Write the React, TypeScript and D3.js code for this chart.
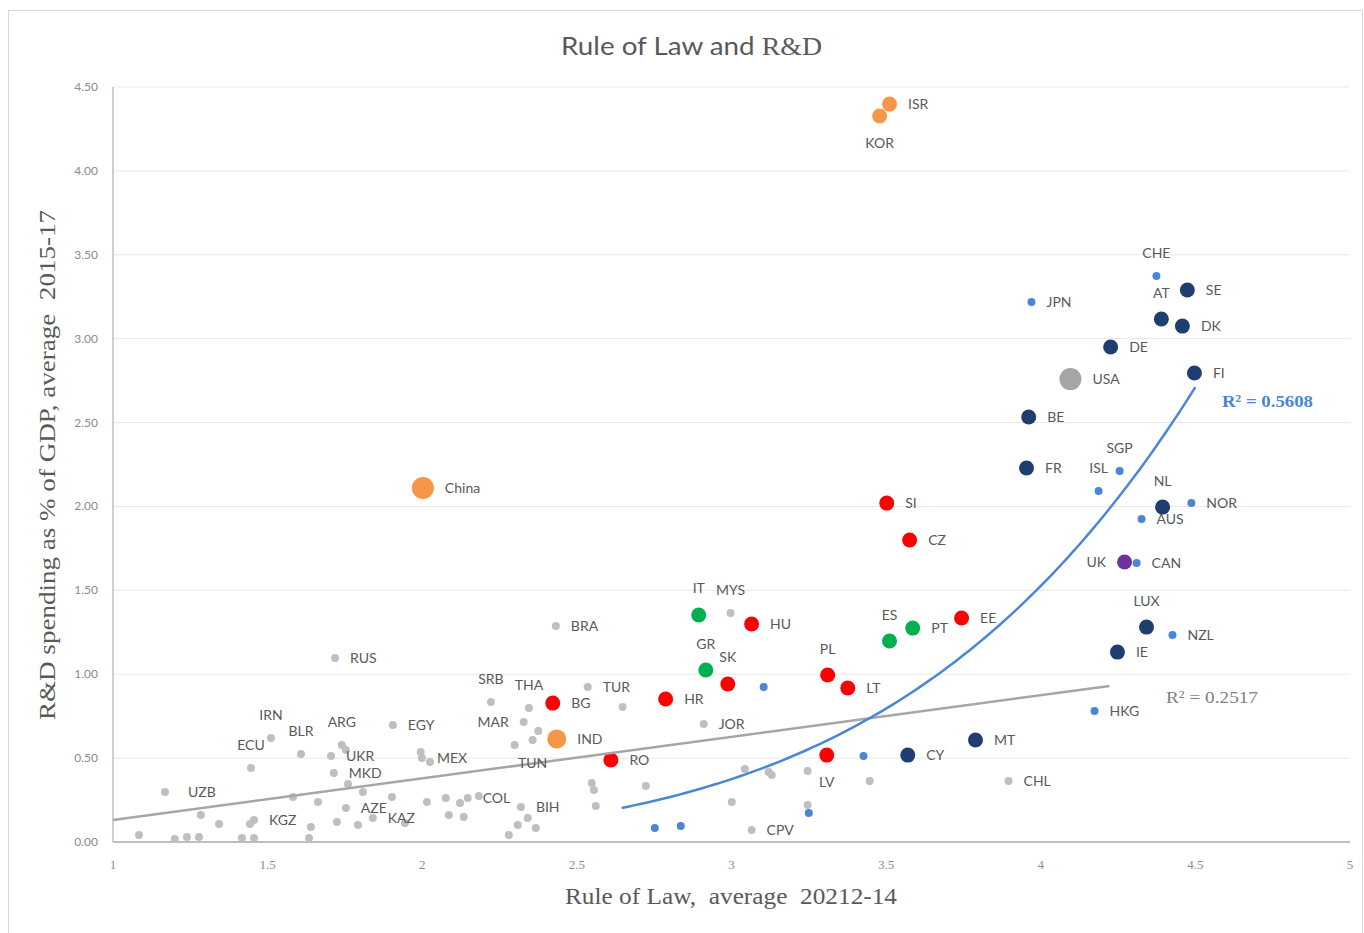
import React, { useRef, useEffect } from "react";
import { select, scaleLinear, line, range, format } from "d3";

// [country, rule of law (avg), R&D spending % of GDP (avg 2015-17)]
const euNorthWest = [
  ["SE", 4.474, 3.29], ["AT", 4.39, 3.117], ["DK", 4.458, 3.075], ["DE", 4.226, 2.95],
  ["FI", 4.497, 2.795], ["BE", 3.961, 2.533], ["FR", 3.954, 2.229], ["NL", 4.394, 1.996],
  ["LUX", 4.342, 1.281], ["IE", 4.248, 1.132], ["MT", 3.789, 0.608], ["CY", 3.57, 0.518]
];
const euEast = [
  ["SI", 3.502, 2.02], ["CZ", 3.576, 1.8], ["EE", 3.744, 1.335], ["HU", 3.065, 1.299],
  ["PL", 3.311, 0.995], ["LT", 3.376, 0.918], ["SK", 2.988, 0.942], ["HR", 2.787, 0.852],
  ["BG", 2.422, 0.828], ["RO", 2.61, 0.489], ["LV", 3.308, 0.518]
];
const euSouth = [["IT", 2.894, 1.353], ["GR", 2.917, 1.025], ["ES", 3.511, 1.198], ["PT", 3.586, 1.275]];
const asia = [["ISR", 3.511, 4.398], ["KOR", 3.479, 4.327]];
const bigAsia = [["China", 2.002, 2.11], ["IND", 2.435, 0.614]];
const usa = [["USA", 4.096, 2.759]];
const uk = [["UK", 4.271, 1.669]];
const oecdOther = [
  ["CHE", 4.374, 3.373], ["JPN", 3.97, 3.218], ["SGP", 4.255, 2.211], ["ISL", 4.187, 2.092],
  ["NOR", 4.487, 2.02], ["AUS", 4.326, 1.925], ["CAN", 4.31, 1.663], ["NZL", 4.426, 1.234],
  ["HKG", 4.174, 0.781], ["", 3.104, 0.924], ["", 3.427, 0.513], ["", 3.25, 0.173],
  ["", 2.752, 0.083], ["", 2.836, 0.095]
];
const others = [
  ["RUS", 1.718, 1.097], ["BRA", 2.432, 1.287], ["MYS", 2.997, 1.365], ["TUR", 2.535, 0.924],
  ["SRB", 2.222, 0.834], ["THA", 2.345, 0.799], ["MAR", 2.328, 0.715], ["JOR", 2.91, 0.703],
  ["TUN", 2.357, 0.608], ["IRN", 1.511, 0.62], ["BLR", 1.608, 0.524], ["ECU", 1.446, 0.441],
  ["ARG", 1.74, 0.578], ["UKR", 1.705, 0.513], ["MKD", 1.714, 0.411], ["EGY", 1.905, 0.697],
  ["MEX", 1.999, 0.501], ["UZB", 1.168, 0.298], ["KGZ", 1.456, 0.131], ["AZE", 1.753, 0.203],
  ["KAZ", 1.84, 0.143], ["COL", 2.147, 0.262], ["BIH", 2.319, 0.209], ["CHL", 3.896, 0.364],
  ["CPV", 3.065, 0.072],
  ["", 1.753, 0.548], ["", 1.995, 0.536], ["", 2.025, 0.477], ["", 1.76, 0.346],
  ["", 1.808, 0.298], ["", 1.902, 0.268], ["", 2.015, 0.238], ["", 1.582, 0.268],
  ["", 1.663, 0.238], ["", 1.724, 0.119], ["", 1.792, 0.101], ["", 1.64, 0.089],
  ["", 1.944, 0.113], ["", 1.284, 0.161], ["", 1.343, 0.107], ["", 1.084, 0.042],
  ["", 1.2, 0.018], ["", 1.239, 0.03], ["", 1.278, 0.03], ["", 1.417, 0.024],
  ["", 1.456, 0.024], ["", 1.634, 0.024], ["", 1.443, 0.107], ["", 2.375, 0.662],
  ["", 2.299, 0.578], ["", 2.183, 0.274], ["", 2.076, 0.262], ["", 2.122, 0.232],
  ["", 2.086, 0.161], ["", 2.134, 0.149], ["", 2.341, 0.143], ["", 2.309, 0.101],
  ["", 2.367, 0.083], ["", 2.28, 0.042], ["", 2.548, 0.352], ["", 2.555, 0.31],
  ["", 2.561, 0.215], ["", 2.723, 0.334], ["", 2.648, 0.805], ["", 3.001, 0.238],
  ["", 3.043, 0.435], ["", 3.13, 0.399], ["", 3.12, 0.417], ["", 3.246, 0.423],
  ["", 3.447, 0.364], ["", 3.246, 0.221]
];

const xTicks = [1, 1.5, 2, 2.5, 3, 3.5, 4, 4.5, 5];
const yTicks = [0, 0.5, 1, 1.5, 2, 2.5, 3, 3.5, 4, 4.5];

// trendlines as given in the chart (linear, all countries; power, OECD/EU)
const linFit = { a: -0.117, b: 0.248, from: 1, to: 4.222, r2: "0.2517" };
const powFit = { a: 0.00176, b: 4.88, from: 2.645, to: 4.5, r2: "0.5608" };

// where each label sits relative to its dot (default: right)
const labelSide = {
  CHE: "top", AT: "top", SGP: "top", ISL: "top", NL: "top", LUX: "top", ES: "top",
  PL: "top", IT: "top", MYS: "top", GR: "top", SK: "top", SRB: "top", THA: "top",
  IRN: "top", BLR: "top", ECU: "top", ARG: "top",
  KOR: "bottom", LV: "bottom", TUN: "bottom",
  UK: "left", MAR: "left"
};

const W = 1364;
const H = 933;
const labelFont = "Lato, 'Open Sans', sans-serif";
const serif = "'Liberation Serif', 'DejaVu Serif', serif";

function App() {
  const svgRef = useRef(null);

  useEffect(() => {
    const svg = select(svgRef.current);
    svg.selectAll("*").remove();

    const x = scaleLinear().domain([1, 5]).range([113, 1350]);
    const y = scaleLinear().domain([0, 4.5]).range([842, 87]);

    // outer chart frame
    svg.append("rect")
      .attr("x", 8.5).attr("y", 10.5)
      .attr("width", W - 10).attr("height", H)
      .attr("fill", "white").attr("stroke", "#d9d9d9");

    // title
    const title = svg.append("text")
      .attr("x", 561).attr("y", 55)
      .attr("textLength", 261)
      .attr("lengthAdjust", "spacingAndGlyphs")
      .attr("fill", "#595959")
      .style("white-space", "pre")
      .style("font-size", "25px");
    title.append("tspan").style("font-family", labelFont).text("Rule of Law and ");
    title.append("tspan").style("font-family", serif).text("R&D");

    // gridlines
    svg.selectAll(".grid")
      .data(yTicks.filter(d => d > 0))
      .join("line")
      .attr("class", "grid")
      .attr("x1", x(1)).attr("x2", x(5))
      .attr("y1", d => y(d)).attr("y2", d => y(d))
      .attr("stroke", "#e8e8e8");

    // axes
    svg.append("line")
      .attr("x1", x(1)).attr("x2", x(1))
      .attr("y1", y(4.5)).attr("y2", y(0))
      .attr("stroke", "#bfbfbf").attr("stroke-width", 1.5);
    svg.append("line")
      .attr("x1", x(1)).attr("x2", x(5))
      .attr("y1", y(0)).attr("y2", y(0))
      .attr("stroke", "#bfbfbf").attr("stroke-width", 2);

    svg.selectAll(".ytick")
      .data(yTicks)
      .join("text")
      .attr("class", "ytick")
      .attr("x", 98).attr("y", d => y(d) + 4)
      .attr("text-anchor", "end")
      .attr("fill", "#8c8c8c")
      .style("font-family", labelFont)
      .style("font-size", "12px")
      .text(format(".2f"));

    svg.selectAll(".xtick")
      .data(xTicks)
      .join("text")
      .attr("class", "xtick")
      .attr("x", d => x(d)).attr("y", 869)
      .attr("text-anchor", "middle")
      .attr("fill", "#8c8c8c")
      .style("font-family", serif)
      .style("font-size", "13px")
      .text(d => String(d));

    // axis titles
    svg.append("text")
      .attr("transform", "translate(55,720) rotate(-90)")
      .attr("textLength", 510)
      .attr("lengthAdjust", "spacingAndGlyphs")
      .attr("fill", "#595959")
      .style("white-space", "pre")
      .style("font-family", serif)
      .style("font-size", "23px")
      .text("R&D spending as % of GDP, average  2015-17");
    svg.append("text")
      .attr("x", 565).attr("y", 904)
      .attr("textLength", 332)
      .attr("lengthAdjust", "spacingAndGlyphs")
      .attr("fill", "#595959")
      .style("white-space", "pre")
      .style("font-family", serif)
      .style("font-size", "23px")
      .text("Rule of Law,  average  20212-14");

    // points
    const groups = [
      { data: others, color: "#bfbfbf", r: 4 },
      { data: oecdOther, color: "#4a86d8", r: 4 },
      { data: usa, color: "#a6a6a6", r: 11 },
      { data: bigAsia, color: "#f79646", r: 10 },
      { data: asia, color: "#f79646", r: 7.5 },
      { data: euSouth, color: "#00b050", r: 7.5 },
      { data: euEast, color: "#ff0000", r: 7.5 },
      { data: euNorthWest, color: "#1f3e6f", r: 7.5 },
      { data: uk, color: "#7030a0", r: 7.5 }
    ];
    // China and IND differ slightly in size
    const radius = (g, d) => (d[0] === "IND" ? 9.5 : d[0] === "China" ? 11 : g.r);

    groups.forEach(g => {
      svg.append("g")
        .selectAll("circle")
        .data(g.data)
        .join("circle")
        .attr("cx", d => x(d[1]))
        .attr("cy", d => y(d[2]))
        .attr("r", d => radius(g, d))
        .attr("fill", g.color);
    });

    // trendlines
    const path = line().x(d => x(d[0])).y(d => y(d[1]));
    svg.append("path")
      .attr("d", path([linFit.from, linFit.to].map(v => [v, linFit.a + linFit.b * v])))
      .attr("fill", "none")
      .attr("stroke", "#a6a6a6")
      .attr("stroke-width", 2.5);
    const powXs = range(powFit.from, powFit.to, 0.02).concat([powFit.to]);
    svg.append("path")
      .attr("d", path(powXs.map(v => [v, powFit.a * Math.pow(v, powFit.b)])))
      .attr("fill", "none")
      .attr("stroke", "#4a86d8")
      .attr("stroke-width", 2.5);

    svg.append("text")
      .attr("x", 1222).attr("y", 407)
      .attr("textLength", 91)
      .attr("lengthAdjust", "spacingAndGlyphs")
      .attr("fill", "#4a86d8")
      .style("font-family", serif)
      .style("font-weight", "bold")
      .style("font-size", "17px")
      .text(`R² = ${powFit.r2}`);
    svg.append("text")
      .attr("x", 1166).attr("y", 703)
      .attr("textLength", 92)
      .attr("lengthAdjust", "spacingAndGlyphs")
      .attr("fill", "#7f7f7f")
      .style("font-family", serif)
      .style("font-size", "17px")
      .text(`R² = ${linFit.r2}`);

    // labels
    groups.forEach(g => {
      svg.append("g")
        .selectAll("text")
        .data(g.data.filter(d => d[0] !== ""))
        .join("text")
        .each(function (d) {
          const r = radius(g, d);
          const side = labelSide[d[0]] || "right";
          const cx = x(d[1]);
          const cy = y(d[2]);
          const t = select(this);
          if (side === "top") {
            t.attr("x", cx).attr("y", cy - r - 19 + 5).attr("text-anchor", "middle");
          } else if (side === "bottom") {
            t.attr("x", cx).attr("y", cy + r + 19 + 5).attr("text-anchor", "middle");
          } else if (side === "left") {
            t.attr("x", cx - r - 11).attr("y", cy + 5).attr("text-anchor", "end");
          } else {
            const extra = d[0] === "UZB" ? 8 : 0;
            t.attr("x", cx + r + 11 + extra).attr("y", cy + 5).attr("text-anchor", "start");
          }
        })
        .attr("fill", "#595959")
        .style("font-family", labelFont)
        .style("font-size", "14px")
        .text(d => d[0]);
    });
  }, []);

  return (
    <svg
      ref={svgRef}
      width={W}
      height={H}
      style={{ position: "absolute", left: 0, top: 0, background: "white" }}
    />
  );
}

export default App;
